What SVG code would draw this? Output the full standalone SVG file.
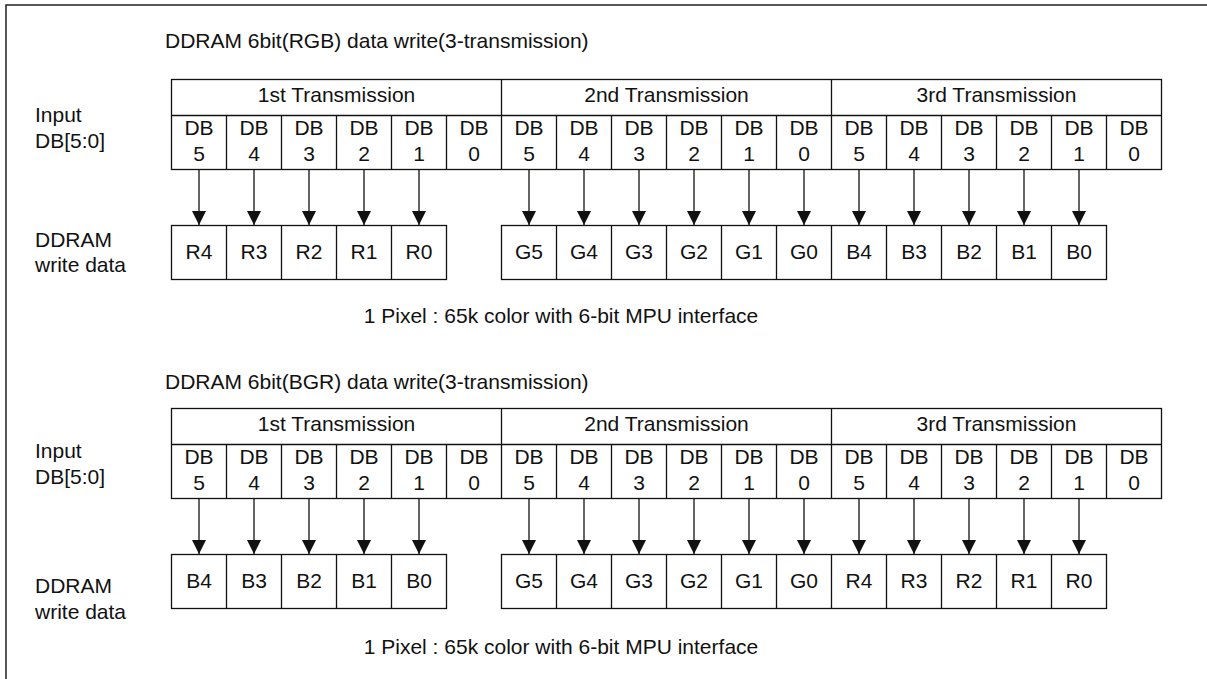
<svg xmlns="http://www.w3.org/2000/svg" width="1207" height="679" viewBox="0 0 1207 679">
<defs>
<style>
.t{font-family:"Liberation Sans",Arial,sans-serif;font-size:21px;fill:#111}
.c{text-anchor:middle}
.b{fill:#fff;stroke:#111;stroke-width:1.3}
.l{stroke:#111;stroke-width:1.3;fill:none}
.a{stroke:#111;stroke-width:1.3}
</style>
<marker id="ah" viewBox="0 0 14 14" refX="7" refY="14" markerWidth="14" markerHeight="14" markerUnits="userSpaceOnUse" orient="0">
<path d="M0,0 L14,0 L7,14 Z" fill="#111"/>
</marker>
</defs>
<rect x="0" y="0" width="1207" height="679" fill="#fff"/>
<rect x="6" y="5" width="1220" height="700" fill="none" stroke="#222" stroke-width="1.5"/>

<!-- ===== Section 1 ===== -->
<g id="title1"><text class="t" x="165" y="48">DDRAM 6bit(RGB) data write(3-transmission)</text></g>
<g id="input1"><text class="t" x="35" y="122">Input</text><text class="t" x="35" y="148">DB[5:0]</text></g>
<g id="ddram1"><text class="t" x="35" y="247">DDRAM</text><text class="t" x="35" y="272">write data</text></g>
<g id="table1">
<rect class="b" x="171.5" y="79.5" width="990" height="90"/>
<path class="l" d="M171.5,115.5H1161.5M501.5,79.5V169.5M831.5,79.5V169.5M226.5,115.5V169.5M281.5,115.5V169.5M336.5,115.5V169.5M391.5,115.5V169.5M446.5,115.5V169.5M556.5,115.5V169.5M611.5,115.5V169.5M666.5,115.5V169.5M721.5,115.5V169.5M776.5,115.5V169.5M886.5,115.5V169.5M941.5,115.5V169.5M996.5,115.5V169.5M1051.5,115.5V169.5M1106.5,115.5V169.5"/>
<text class="t c" x="336.5" y="102">1st Transmission</text>
<text class="t c" x="666.5" y="102">2nd Transmission</text>
<text class="t c" x="996.5" y="102">3rd Transmission</text>
<g class="t c">
<text x="199" y="135">DB</text><text x="199" y="161">5</text>
<text x="254" y="135">DB</text><text x="254" y="161">4</text>
<text x="309" y="135">DB</text><text x="309" y="161">3</text>
<text x="364" y="135">DB</text><text x="364" y="161">2</text>
<text x="419" y="135">DB</text><text x="419" y="161">1</text>
<text x="474" y="135">DB</text><text x="474" y="161">0</text>
<text x="529" y="135">DB</text><text x="529" y="161">5</text>
<text x="584" y="135">DB</text><text x="584" y="161">4</text>
<text x="639" y="135">DB</text><text x="639" y="161">3</text>
<text x="694" y="135">DB</text><text x="694" y="161">2</text>
<text x="749" y="135">DB</text><text x="749" y="161">1</text>
<text x="804" y="135">DB</text><text x="804" y="161">0</text>
<text x="859" y="135">DB</text><text x="859" y="161">5</text>
<text x="914" y="135">DB</text><text x="914" y="161">4</text>
<text x="969" y="135">DB</text><text x="969" y="161">3</text>
<text x="1024" y="135">DB</text><text x="1024" y="161">2</text>
<text x="1079" y="135">DB</text><text x="1079" y="161">1</text>
<text x="1134" y="135">DB</text><text x="1134" y="161">0</text>
</g>
</g>
<g id="boxes1">
<rect class="b" x="171.5" y="225.5" width="275" height="54"/>
<rect class="b" x="501.5" y="225.5" width="605" height="54"/>
<path class="l" d="M226.5,225.5V279.5M281.5,225.5V279.5M336.5,225.5V279.5M391.5,225.5V279.5M556.5,225.5V279.5M611.5,225.5V279.5M666.5,225.5V279.5M721.5,225.5V279.5M776.5,225.5V279.5M831.5,225.5V279.5M886.5,225.5V279.5M941.5,225.5V279.5M996.5,225.5V279.5M1051.5,225.5V279.5"/>
<g class="t c">
<text x="199" y="259">R4</text><text x="254" y="259">R3</text><text x="309" y="259">R2</text><text x="364" y="259">R1</text><text x="419" y="259">R0</text>
<text x="529" y="259">G5</text><text x="584" y="259">G4</text><text x="639" y="259">G3</text><text x="694" y="259">G2</text><text x="749" y="259">G1</text><text x="804" y="259">G0</text>
<text x="859" y="259">B4</text><text x="914" y="259">B3</text><text x="969" y="259">B2</text><text x="1024" y="259">B1</text><text x="1079" y="259">B0</text>
</g>
</g>
<g id="connectors1" class="a">
<line x1="199" y1="170" x2="199" y2="225" marker-end="url(#ah)"/>
<line x1="254" y1="170" x2="254" y2="225" marker-end="url(#ah)"/>
<line x1="309" y1="170" x2="309" y2="225" marker-end="url(#ah)"/>
<line x1="364" y1="170" x2="364" y2="225" marker-end="url(#ah)"/>
<line x1="419" y1="170" x2="419" y2="225" marker-end="url(#ah)"/>
<line x1="529" y1="170" x2="529" y2="225" marker-end="url(#ah)"/>
<line x1="584" y1="170" x2="584" y2="225" marker-end="url(#ah)"/>
<line x1="639" y1="170" x2="639" y2="225" marker-end="url(#ah)"/>
<line x1="694" y1="170" x2="694" y2="225" marker-end="url(#ah)"/>
<line x1="749" y1="170" x2="749" y2="225" marker-end="url(#ah)"/>
<line x1="804" y1="170" x2="804" y2="225" marker-end="url(#ah)"/>
<line x1="859" y1="170" x2="859" y2="225" marker-end="url(#ah)"/>
<line x1="914" y1="170" x2="914" y2="225" marker-end="url(#ah)"/>
<line x1="969" y1="170" x2="969" y2="225" marker-end="url(#ah)"/>
<line x1="1024" y1="170" x2="1024" y2="225" marker-end="url(#ah)"/>
<line x1="1079" y1="170" x2="1079" y2="225" marker-end="url(#ah)"/>
</g>
<g id="note1"><text class="t c" x="561" y="323">1 Pixel : 65k color with 6-bit MPU interface</text></g>

<!-- ===== Section 2 ===== -->
<g id="title2"><text class="t" x="165" y="389">DDRAM 6bit(BGR) data write(3-transmission)</text></g>
<g id="input2"><text class="t" x="35" y="458">Input</text><text class="t" x="35" y="484">DB[5:0]</text></g>
<g id="ddram2"><text class="t" x="35" y="593">DDRAM</text><text class="t" x="35" y="619">write data</text></g>
<g id="table2">
<rect class="b" x="171.5" y="408.5" width="990" height="90"/>
<path class="l" d="M171.5,444.5H1161.5M501.5,408.5V498.5M831.5,408.5V498.5M226.5,444.5V498.5M281.5,444.5V498.5M336.5,444.5V498.5M391.5,444.5V498.5M446.5,444.5V498.5M556.5,444.5V498.5M611.5,444.5V498.5M666.5,444.5V498.5M721.5,444.5V498.5M776.5,444.5V498.5M886.5,444.5V498.5M941.5,444.5V498.5M996.5,444.5V498.5M1051.5,444.5V498.5M1106.5,444.5V498.5"/>
<text class="t c" x="336.5" y="431">1st Transmission</text>
<text class="t c" x="666.5" y="431">2nd Transmission</text>
<text class="t c" x="996.5" y="431">3rd Transmission</text>
<g class="t c">
<text x="199" y="464">DB</text><text x="199" y="490">5</text>
<text x="254" y="464">DB</text><text x="254" y="490">4</text>
<text x="309" y="464">DB</text><text x="309" y="490">3</text>
<text x="364" y="464">DB</text><text x="364" y="490">2</text>
<text x="419" y="464">DB</text><text x="419" y="490">1</text>
<text x="474" y="464">DB</text><text x="474" y="490">0</text>
<text x="529" y="464">DB</text><text x="529" y="490">5</text>
<text x="584" y="464">DB</text><text x="584" y="490">4</text>
<text x="639" y="464">DB</text><text x="639" y="490">3</text>
<text x="694" y="464">DB</text><text x="694" y="490">2</text>
<text x="749" y="464">DB</text><text x="749" y="490">1</text>
<text x="804" y="464">DB</text><text x="804" y="490">0</text>
<text x="859" y="464">DB</text><text x="859" y="490">5</text>
<text x="914" y="464">DB</text><text x="914" y="490">4</text>
<text x="969" y="464">DB</text><text x="969" y="490">3</text>
<text x="1024" y="464">DB</text><text x="1024" y="490">2</text>
<text x="1079" y="464">DB</text><text x="1079" y="490">1</text>
<text x="1134" y="464">DB</text><text x="1134" y="490">0</text>
</g>
</g>
<g id="boxes2">
<rect class="b" x="171.5" y="554.5" width="275" height="54"/>
<rect class="b" x="501.5" y="554.5" width="605" height="54"/>
<path class="l" d="M226.5,554.5V608.5M281.5,554.5V608.5M336.5,554.5V608.5M391.5,554.5V608.5M556.5,554.5V608.5M611.5,554.5V608.5M666.5,554.5V608.5M721.5,554.5V608.5M776.5,554.5V608.5M831.5,554.5V608.5M886.5,554.5V608.5M941.5,554.5V608.5M996.5,554.5V608.5M1051.5,554.5V608.5"/>
<g class="t c">
<text x="199" y="588">B4</text><text x="254" y="588">B3</text><text x="309" y="588">B2</text><text x="364" y="588">B1</text><text x="419" y="588">B0</text>
<text x="529" y="588">G5</text><text x="584" y="588">G4</text><text x="639" y="588">G3</text><text x="694" y="588">G2</text><text x="749" y="588">G1</text><text x="804" y="588">G0</text>
<text x="859" y="588">R4</text><text x="914" y="588">R3</text><text x="969" y="588">R2</text><text x="1024" y="588">R1</text><text x="1079" y="588">R0</text>
</g>
</g>
<g id="connectors2" class="a">
<line x1="199" y1="499" x2="199" y2="554" marker-end="url(#ah)"/>
<line x1="254" y1="499" x2="254" y2="554" marker-end="url(#ah)"/>
<line x1="309" y1="499" x2="309" y2="554" marker-end="url(#ah)"/>
<line x1="364" y1="499" x2="364" y2="554" marker-end="url(#ah)"/>
<line x1="419" y1="499" x2="419" y2="554" marker-end="url(#ah)"/>
<line x1="529" y1="499" x2="529" y2="554" marker-end="url(#ah)"/>
<line x1="584" y1="499" x2="584" y2="554" marker-end="url(#ah)"/>
<line x1="639" y1="499" x2="639" y2="554" marker-end="url(#ah)"/>
<line x1="694" y1="499" x2="694" y2="554" marker-end="url(#ah)"/>
<line x1="749" y1="499" x2="749" y2="554" marker-end="url(#ah)"/>
<line x1="804" y1="499" x2="804" y2="554" marker-end="url(#ah)"/>
<line x1="859" y1="499" x2="859" y2="554" marker-end="url(#ah)"/>
<line x1="914" y1="499" x2="914" y2="554" marker-end="url(#ah)"/>
<line x1="969" y1="499" x2="969" y2="554" marker-end="url(#ah)"/>
<line x1="1024" y1="499" x2="1024" y2="554" marker-end="url(#ah)"/>
<line x1="1079" y1="499" x2="1079" y2="554" marker-end="url(#ah)"/>
</g>
<g id="note2"><text class="t c" x="561" y="654">1 Pixel : 65k color with 6-bit MPU interface</text></g>
</svg>
